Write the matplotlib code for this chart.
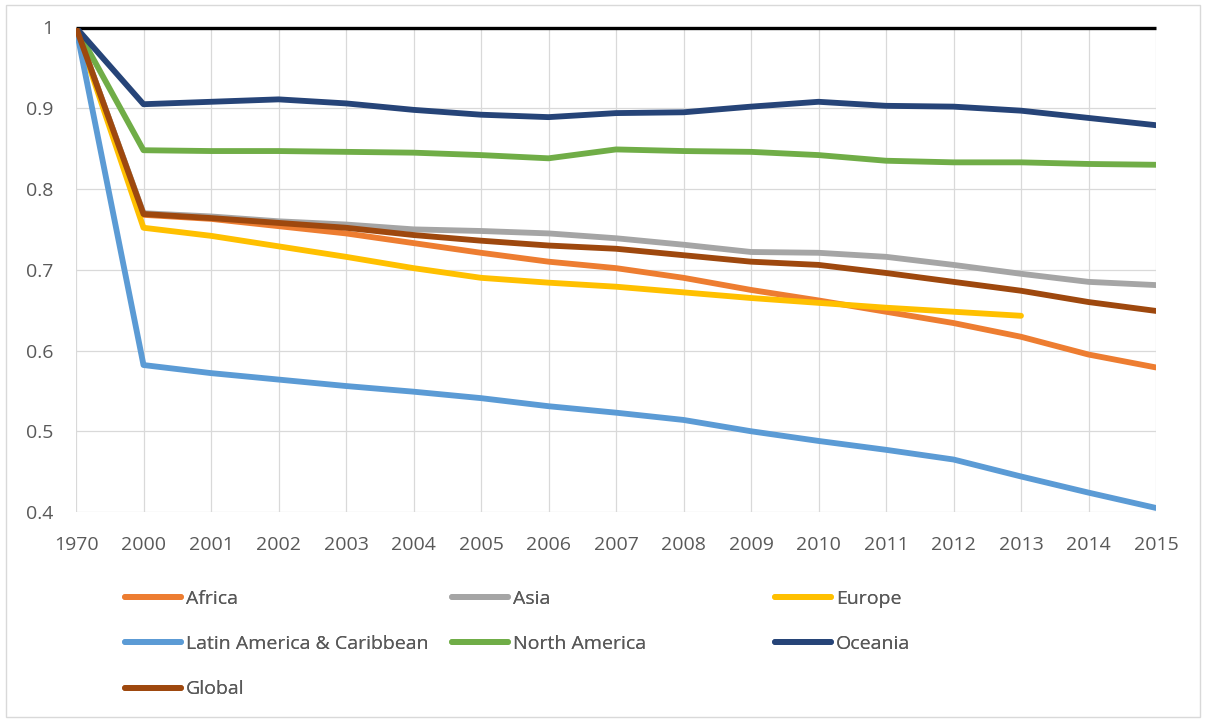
import numpy as np
import matplotlib
matplotlib.use("Agg")
import matplotlib.pyplot as plt
from matplotlib.patches import Rectangle

years = ["1970", "2000", "2001", "2002", "2003", "2004", "2005", "2006", "2007",
         "2008", "2009", "2010", "2011", "2012", "2013", "2014", "2015"]

africa = [1.0, 0.768, 0.763, 0.754, 0.745, 0.733, 0.721, 0.710, 0.702, 0.690,
          0.675, 0.662, 0.648, 0.634, 0.617, 0.595, 0.579]
asia = [1.0, 0.770, 0.766, 0.760, 0.756, 0.750, 0.748, 0.745, 0.739, 0.731,
        0.722, 0.721, 0.716, 0.706, 0.695, 0.685, 0.681]
europe = [1.0, 0.752, 0.742, 0.729, 0.716, 0.702, 0.690, 0.684, 0.679, 0.672,
          0.665, 0.659, 0.653, 0.648, 0.643, np.nan, np.nan]
latam = [1.0, 0.582, 0.572, 0.564, 0.556, 0.549, 0.541, 0.531, 0.523, 0.514,
         0.500, 0.488, 0.477, 0.465, 0.444, 0.424, 0.405]
north_america = [1.0, 0.848, 0.847, 0.847, 0.846, 0.845, 0.842, 0.838, 0.849, 0.847,
                 0.846, 0.842, 0.835, 0.833, 0.833, 0.831, 0.830]
oceania = [1.0, 0.905, 0.908, 0.911, 0.906, 0.898, 0.892, 0.889, 0.894, 0.895,
           0.902, 0.908, 0.903, 0.902, 0.897, 0.888, 0.879]
global_ = [1.0, 0.769, 0.764, 0.758, 0.752, 0.743, 0.736, 0.730, 0.726, 0.718,
           0.710, 0.706, 0.696, 0.685, 0.674, 0.660, 0.649]
baseline = [1.0] * len(years)

series = [
    ("Africa", africa, "#ED7D31"),
    ("Asia", asia, "#A5A5A5"),
    ("Europe", europe, "#FFC000"),
    ("Latin America & Caribbean", latam, "#5B9BD5"),
    ("North America", north_america, "#70AD47"),
    ("Oceania", oceania, "#264478"),
    ("Global", global_, "#9E480E"),
]

yticks = [0.4, 0.5, 0.6, 0.7, 0.8, 0.9, 1.0]
ytick_labels = ["0.4", "0.5", "0.6", "0.7", "0.8", "0.9", "1"]

FONT = "Open Sans"
W, H = 1206, 721
fig = plt.figure(figsize=(W / 100, H / 100), dpi=100)
fig.patch.set_facecolor("white")
ax = fig.add_axes([76 / W, 1 - 512 / H, (1156 - 76) / W, (512 - 27.5) / H])

x = np.arange(len(years))
ax.plot(x, baseline, color="black", lw=2.4, solid_capstyle="butt", zorder=2,
        clip_on=False)
lines = {}
for name, vals, col in series:
    ln, = ax.plot(x, vals, color=col, lw=4.2, label=name, zorder=3,
                  solid_capstyle="round", solid_joinstyle="round")
    lines[name] = ln

ax.set_xlim(0, len(years) - 1)
ax.set_ylim(0.4, 1.0)
ax.set_xticks(x)
ax.set_xticklabels(years)
ax.set_yticks(yticks)
ax.set_yticklabels(ytick_labels)
ax.grid(True, color="#D9D9D9", lw=0.9)
ax.set_axisbelow(True)
for s in ax.spines.values():
    s.set_visible(False)
ax.tick_params(axis="both", length=0, labelsize=14, colors="#595959")
ax.tick_params(axis="y", pad=16)
ax.tick_params(axis="x", pad=17)
for lab in ax.get_xticklabels() + ax.get_yticklabels():
    lab.set_fontfamily(FONT)

# Legend: three columns as in the reference
cols = [
    (["Africa", "Latin America & Caribbean", "Global"], 125),
    (["Asia", "North America"], 452),
    (["Europe", "Oceania"], 775),
]
for names, xpx in cols:
    leg = fig.legend([lines[n] for n in names], names,
                     loc="upper left", bbox_to_anchor=(xpx / W, 1 - 590 / H),
                     frameon=False, handlelength=2.9, handletextpad=0.22,
                     labelspacing=1.4, borderaxespad=0, borderpad=0,
                     prop={"family": FONT, "size": 14})
    for t in leg.get_texts():
        t.set_color("#595959")
    fig.add_artist(leg)

fig.add_artist(Rectangle((6 / W, 1 - 717 / H), (1200 - 6) / W, (717 - 5) / H,
                         transform=fig.transFigure, fill=False,
                         edgecolor="#D9D9D9", lw=1))

fig.savefig("out.png", dpi=100, facecolor="white")
